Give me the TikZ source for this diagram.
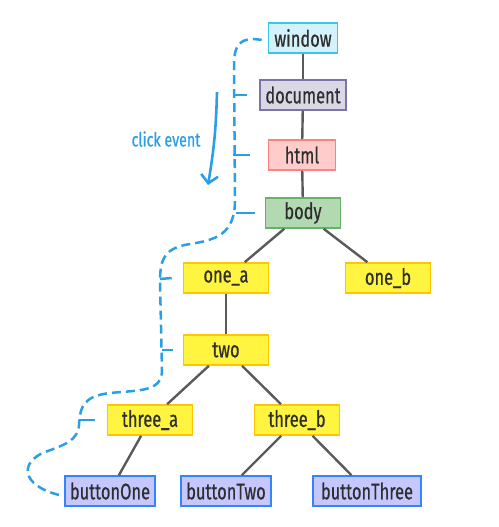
\documentclass[tikz,border=0pt]{standalone}
\usepackage{fontspec}
\setmainfont{Fira Sans}[FakeStretch=0.73,FakeBold=0.6]
\usetikzlibrary{arrows.meta}

\definecolor{evblue}{HTML}{2A9FE6}
\definecolor{edgegray}{HTML}{5A5A5A}
\definecolor{txtgray}{HTML}{2E2E2E}
\definecolor{wincol}{HTML}{3CC6EE}
\definecolor{doccol}{HTML}{7D73A6}

\tikzset{
  box/.style={draw, line width=1.6pt, minimum height=30pt, inner xsep=5pt,
    inner ysep=2pt, text=txtgray, font=\fontsize{22.5}{24}\selectfont},
  winbox/.style={box, fill=wincol!22, draw=wincol},
  docbox/.style={box, fill=doccol!28, draw=doccol},
  htmlbox/.style={box, fill=red!20, draw=red!50},
  bodybox/.style={box, fill=green!50!black!30, draw=green!50!black!60},
  elbox/.style={box, fill=yellow!75, draw=orange!45!yellow, minimum width=85pt},
  btnbox/.style={box, fill=blue!22!white, draw=blue!60!cyan!80, minimum width=86pt},
  tree/.style={draw=edgegray, line width=2.4pt},
  bubble/.style={draw=evblue, line width=2.5pt, dash pattern=on 9pt off 5pt},
  notch/.style={draw=evblue, line width=2.5pt}
}

\begin{document}
\begin{tikzpicture}[x=1pt, y=-1pt]
\useasboundingbox (0,0) rectangle (498,527);

\node [winbox, minimum width=69pt] (window) at (303,38) {window};
\node [docbox, minimum width=86pt] (document) at (303,95) {document};
\node [htmlbox, minimum width=67pt] (html) at (302,155) {html};
\node [bodybox, minimum width=75pt] (body) at (303,213) {body};
\node [elbox] (onea) at (226,278) {one\_a};
\node [elbox] (oneb) at (388,278) {one\_b};
\node [elbox] (two) at (226,350) {two};
\node [elbox] (threea) at (150,420) {three\_a};
\node [elbox] (threeb) at (297,420) {three\_b};
\node [btnbox] (btnone) at (110,491) {buttonOne};
\node [btnbox] (btntwo) at (226,491) {buttonTwo};
\node [btnbox, minimum width=108pt] (btnthree) at (367,491) {buttonThree};

\draw [tree] (window) -- (document);
\draw [tree] (document) -- (html);
\draw [tree] (html) -- (body);
\draw [tree] (body) -- (onea);
\draw [tree] (body) -- (oneb);
\draw [tree] (onea) -- (two);
\draw [tree] (two) -- (threea);
\draw [tree] (two) -- (threeb);
\draw [tree] (threea) -- (btnone);
\draw [tree] (threeb) -- (btntwo);
\draw [tree] (threeb) -- (btnthree);

% propagation path
\draw [bubble] ([xshift=-6pt,yshift=-2pt]window.west)
  .. controls (240,36) and (234,45) .. (234,65)
  -- (235,200)
  .. controls (235,235) and (215,240) .. (190,244)
  .. controls (165,248) and (160,258) .. (160,282)
  -- (162,370)
  .. controls (162,392) and (140,390) .. (110,393)
  .. controls (85,396) and (80,405) .. (79,425)
  .. controls (78,440) and (65,445) .. (45,452)
  .. controls (20,462) and (20,485) .. ([xshift=-5pt,yshift=-4pt]btnone.west);

\draw [notch] (233,95) -- ([xshift=-12pt]document.west);
\draw [notch] (233,155) -- ([xshift=-18pt]html.west);
\draw [notch] (236,213) -- ([xshift=-10pt]body.west);
\draw [notch] (160,279) -- ([xshift=-11pt]onea.west);
\draw [notch] (162,350) -- ([xshift=-10pt]two.west);
\draw [notch] (79,420) -- ([xshift=-12pt]threea.west);

\coordinate (evtop) at (217,92);
\coordinate (evbot) at (208,185);
\draw [evblue, line width=2.6pt, -{Straight Barb[length=8pt,width=17pt,line width=2.6pt]}]
  (evtop) to [bend left=4] (evbot);
\node [text=evblue, font=\fontsize{19.5}{22}\selectfont] (evlabel) at (166,139) {click event};
\end{tikzpicture}
\end{document}
